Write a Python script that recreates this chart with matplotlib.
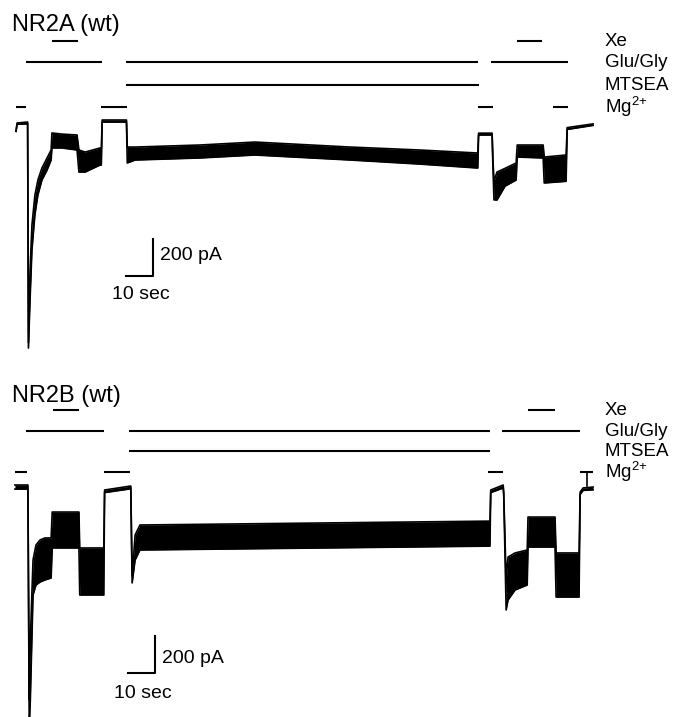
import numpy as np
import matplotlib.pyplot as plt

plt.rcParams['font.family'] = ['Liberation Sans', 'DejaVu Sans']
plt.rcParams['mathtext.fontset'] = 'custom'
plt.rcParams['mathtext.rm'] = 'Liberation Sans'
plt.rcParams['mathtext.default'] = 'regular'

# ---- NR2A trace envelope: time (s), upper edge (pA), lower edge (pA)
a_t = [0.0, 0.4, 4.3, 4.6, 5.2, 5.9, 7.0, 8.1, 9.6, 11.5, 13.0, 13.3, 17.0, 22.6,
       23.3, 25.6, 31.1, 31.6, 31.9, 40.9, 41.2, 44.1, 68.1, 88.5, 123.7, 149.6,
       170.7, 171.0, 171.3, 176.3, 176.6, 177.0, 178.1, 181.1, 185.2, 185.6,
       195.2, 195.6, 203.7, 204.1, 213.7]
a_hi = [-50, -5, 0, -1190, -800, -556, -394, -313, -248, -194, -151, -59, -65, -70,
        -151, -162, -140, -140, 11, 11, -135, -135, -124, -108, -135, -151,
        -167, -167, -60, -60, -200, -320, -270, -250, -221, -124,
        -124, -189, -178, -30, -10]
a_lo = [-50, -12, -10, -1220, -960, -690, -500, -394, -313, -259, -205, -140, -140, -151,
        -270, -270, -232, -232, 0, 0, -221, -205, -194, -178, -205, -227,
        -248, -248, -70, -70, -240, -420, -421, -346, -313, -189,
        -194, -329, -320, -40, -18]

# ---- NR2B trace envelope
b_t = [-0.4, 4.4, 4.9, 5.3, 6.3, 7.4, 8.9, 10.7, 13.0, 13.4, 23.3, 23.6, 32.5,
       32.8, 42.2, 42.5, 43.0, 44.1, 45.9, 175.5, 175.8, 180.4, 180.6, 181.5,
       182.2, 184.8, 189.3, 189.6, 199.6, 200.0, 208.5, 208.9, 210.0, 213.7]
b_hi = [11, 11, -1150, -826, -394, -313, -286, -275, -275, -135, -135, -329, -329,
        -16, 5, 5, -480, -259, -205, -184, -16, 11, -30, -500,
        -378, -356, -340, -162, -162, -356, -356, -27, -5, 0]
b_lo = [-11, -11, -1300, -1150, -583, -529, -513, -502, -491, -329, -329, -583, -583,
        -30, -10, -10, -518, -394, -340, -319, -30, -5, -40, -664,
        -610, -556, -529, -324, -324, -594, -594, -40, -18, -15]

# ---- solution application bars: (start s, end s)
labels = ['Xe', 'Glu/Gly', 'MTSEA', 'Mg$^{2{+}}$']
a_levels = [437, 324, 200, 81]
b_levels = [416, 302, 194, 81]
a_bars = [
    [(13.3, 23.0), (185.6, 194.8)],
    [(3.7, 31.9), (40.7, 171.1), (175.9, 204.4)],
    [(40.7, 171.5)],
    [(0.0, 3.7), (31.5, 41.1), (171.1, 176.7), (198.9, 204.4)],
]
b_bars = [
    [(13.7, 23.3), (189.6, 199.6)],
    [(3.7, 32.6), (41.9, 175.6), (180.0, 208.9)],
    [(41.9, 175.6)],
    [(-0.4, 4.1), (32.6, 42.2), (174.8, 180.4), (208.9, 213.7)],
]

scale_t = 10    # sec
scale_i = 200   # pA

fig = plt.figure(figsize=(6.76, 7.17), dpi=100)
axA = fig.add_axes([0, 0.5007, 1, 0.4993])
axB = fig.add_axes([0, 0, 1, 359 / 717])
axA.set_xlim(-5.93, 244.4)
axA.set_ylim(-1274, 659)
axB.set_xlim(-5.93, 244.4)
axB.set_ylim(-1242, 697)


def draw_panel(ax, title, title_y, t, hi, lo, levels, bars, sb_x, sb_y, lab_y):
    ax.fill_between(t, lo, hi, color='black', lw=0)
    ax.plot(t, hi, color='black', lw=1.2)
    ax.plot(t, lo, color='black', lw=1.2)
    for lev, spans, lab in zip(levels, bars, labels):
        for s, e in spans:
            ax.plot([s, e], [lev, lev], color='black', lw=1.5, solid_capstyle='butt')
        ax.text(218.1, lev, lab, fontsize=13.5, va='center', ha='left')
    ax.text(-1.5, title_y, title, fontsize=17, va='baseline', ha='left')
    # scale bar
    ax.plot([sb_x, sb_x + scale_t, sb_x + scale_t], [sb_y, sb_y, sb_y + scale_i],
            color='black', lw=1.5)
    ax.text(sb_x + scale_t + 2.6, lab_y[0], '200 pA', fontsize=14, va='baseline')
    ax.text(sb_x - 5.1, lab_y[1], '10 sec', fontsize=14, va='baseline')
    ax.axis('off')


draw_panel(axA, 'NR2A (wt)', 491, a_t, a_hi, a_lo, a_levels, a_bars,
           40.7, -832, (-745, -956))
draw_panel(axB, 'NR2B (wt)', 459, b_t, b_hi, b_lo, b_levels, b_bars,
           41.5, -1004, (-950, -1139))
# end marker on NR2B Mg2+ bar
axB.plot([211.5, 211.5], [b_levels[3], 5], color='black', lw=1.2)

fig.savefig('out.png', dpi=100)
